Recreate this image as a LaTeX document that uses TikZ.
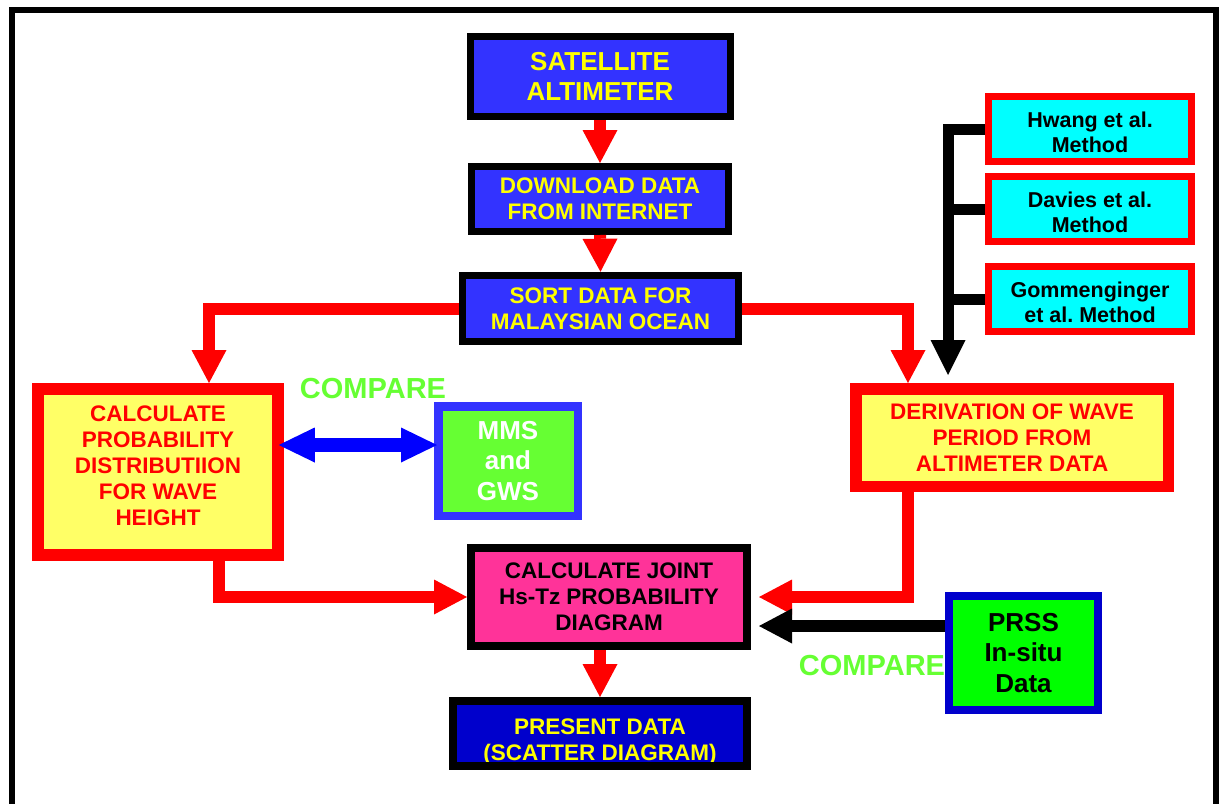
\documentclass[tikz,border=0pt]{standalone}
\usepackage{fontspec}
\setmainfont{Liberation Sans}
\usetikzlibrary{arrows.meta}
\frenchspacing
\definecolor{bbox}{HTML}{3333FF}
\definecolor{dbox}{HTML}{0000CC}
\definecolor{ytxt}{HTML}{FFFF00}
\definecolor{yfill}{HTML}{FFFF66}
\definecolor{pinkfill}{HTML}{FF3399}
\definecolor{mgreen}{HTML}{66FF33}
\definecolor{pgreen}{HTML}{00FF00}
\definecolor{cyanfill}{HTML}{00FFFF}
\definecolor{rred}{HTML}{FF0000}
\definecolor{bblue}{HTML}{0000FF}
\begin{document}
\begin{tikzpicture}[x=1pt,y=-1pt,
  box/.style={draw, align=center, inner sep=0pt, line join=miter},
  fa/.style={font=\fontsize{22.5pt}{26pt}\selectfont\bfseries},
  fb/.style={font=\fontsize{26pt}{30.5pt}\selectfont\bfseries},
  fm/.style={font=\fontsize{21.5pt}{25pt}\selectfont\bfseries\frenchspacing},
  bluebox/.style={box, fa, line width=7pt, fill=bbox, text=ytxt},
  yelbox/.style={box, fa, line width=11.5pt, draw=rred, fill=yfill, text=rred},
  methbox/.style={box, fm, line width=7pt, draw=rred, fill=cyanfill, text=black, minimum width=203pt, minimum height=65pt},
  tipr/.style={-{Triangle[width=35pt,length=33pt,line width=0pt]}},
  redarr/.style={draw=rred, line width=12pt, line join=miter, tipr},
  blackarr/.style={draw=black, line width=12pt, line join=miter, tipr},
  kline/.style={draw=black, line width=11pt, line join=miter},
  bluearr/.style={draw=bblue, line width=14pt, {Triangle[width=35pt,length=36pt,line width=0pt]}-{Triangle[width=35pt,length=36pt,line width=0pt]}},
  cmp/.style={text=mgreen, font=\fontsize{29pt}{32pt}\selectfont\bfseries, inner sep=0pt}
]
\useasboundingbox (0,0) rectangle (1225,803);
\fill[white] (0,0) rectangle (1225,803);
\draw[line width=6pt] (12,9.5) rectangle (1216,840);

% main column
\node[bluebox, fb, minimum width=260pt, minimum height=80pt] (sat) at (600,76.5) {SATELLITE\\ALTIMETER};
\node[bluebox, minimum width=257pt, minimum height=65pt] (dl) at (600,199) {DOWNLOAD DATA\\FROM INTERNET};
\node[bluebox, line width=7.5pt, minimum width=276pt, minimum height=66pt] (sort) at (600.5,308.5) {SORT DATA FOR\\MALAYSIAN OCEAN};

\node[yelbox, minimum width=240pt, minimum height=166pt] (calcp) at (158,472) {CALCULATE\\PROBABILITY\\DISTRIBUTIION\\FOR WAVE\\HEIGHT\rule[-12pt]{0pt}{12pt}};
\node[box, fb, line width=8.5pt, draw=bbox, fill=mgreen, text=white, minimum width=139.5pt, minimum height=109.5pt] (mms) at (508,461) {MMS\\and\\GWS};
\node[yelbox, minimum width=312.5pt, minimum height=97.5pt] (deriv) at (1012,437.5) {DERIVATION OF WAVE\\PERIOD FROM\\ALTIMETER DATA};

\node[box, fa, line width=8pt, fill=pinkfill, text=black, minimum width=276pt, minimum height=98pt] (joint) at (609,597) {CALCULATE JOINT\\Hs-Tz PROBABILITY\\DIAGRAM};
\node[box, fb, line width=8pt, draw=dbox, fill=pgreen, text=black, minimum width=149pt, minimum height=114pt] (prss) at (1023.5,653) {PRSS\\In-situ\\Data};
\node[box, fa, line width=8pt, fill=dbox, text=ytxt, minimum width=294pt, minimum height=65pt] (present) at (600,733.5) {\rule{0pt}{33pt}PRESENT DATA\\(SCATTER DIAGRAM)};
\draw[line width=8pt, line join=miter] ([shift={(4,4)}]present.north west) rectangle ([shift={(-4,-4)}]present.south east);

% methods
\node[methbox] (hwang) at (1090,129) {\rule{0pt}{22pt}Hwang et al.\\Method};
\node[methbox] (davies) at (1090,209) {\rule{0pt}{22pt}Davies et al.\\Method};
\node[methbox] (gomm) at (1090,299) {\rule{0pt}{22pt}Gommenginger\\et al. Method};
\draw[line width=7pt, draw=rred, line join=miter] ([shift={(3.5,3.5)}]gomm.north west) rectangle ([shift={(-3.5,-3.5)}]gomm.south east);

% labels
\node[cmp] (cmp1) at (373,389) {COMPARE};
\node[cmp] (cmp2) at (872,666) {COMPARE};

% coordinates
\coordinate (cL) at (209,383);
\coordinate (cR) at (908,383);
\coordinate (cB) at (219,0);
\coordinate (jR) at (759,597);
\coordinate (jK) at (759,626);
\coordinate (bA) at (0,445);
\coordinate (kT) at (948,375);

% connectors
\draw[redarr] (sat.south) -- (dl.north);
\draw[redarr] (dl.south) -- (sort.north);
\draw[redarr] (sort.west) -| (cL);
\draw[redarr] (sort.east) -| (cR);
\draw[redarr] (calcp.south -| cB) |- (joint.west);
\draw[redarr] (deriv.south -| cR) |- (jR);
\draw[blackarr] (prss.west |- jK) -- (jK);
\draw[redarr] (joint.south -| present.north) -- (present.north);
\draw[bluearr] ([xshift=-5pt]calcp.east |- bA) -- ([xshift=3pt]mms.west |- bA);

\draw[kline, -{Triangle[width=35pt,length=35pt,line width=0pt]}] (hwang.west) -| (kT);
\draw[kline] (davies.west) -- (davies.west -| kT);
\draw[kline] (gomm.west) -- (gomm.west -| kT);
\end{tikzpicture}
\end{document}
